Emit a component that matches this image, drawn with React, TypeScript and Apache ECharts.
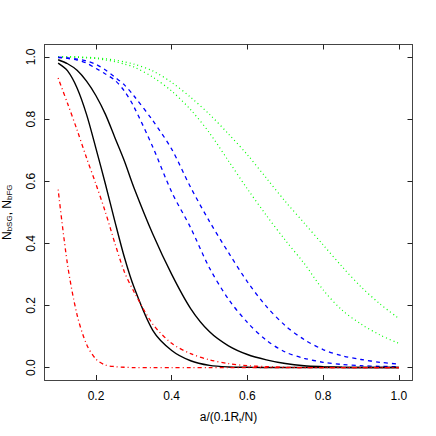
import React, { useEffect, useRef } from "react";
import * as echarts from "echarts";

const xs = [0.1, 0.125, 0.15, 0.175, 0.2, 0.225, 0.25, 0.275, 0.3, 0.35, 0.4, 0.45, 0.5, 0.55, 0.6, 0.65, 0.7, 0.75, 0.8, 0.85, 0.9, 0.95, 1.0];

const redInner = [0.573, 0.33, 0.17, 0.075, 0.027, 0.008, 0.003, 0.001, 0, 0, 0, 0, 0, 0, 0, 0, 0, 0, 0, 0, 0, 0, 0];
const redOuter = [0.932, 0.85, 0.765, 0.675, 0.59, 0.5, 0.4, 0.308, 0.245, 0.14, 0.078, 0.045, 0.025, 0.013, 0.006, 0.003, 0.001, 0, 0, 0, 0, 0, 0];
const blackInner = [0.98, 0.955, 0.9, 0.815, 0.705, 0.59, 0.47, 0.355, 0.26, 0.12, 0.055, 0.022, 0.007, 0.002, 0.001, 0, 0, 0, 0, 0, 0, 0, 0];
const blackOuter = [0.991, 0.978, 0.957, 0.922, 0.875, 0.815, 0.74, 0.665, 0.58, 0.43, 0.3, 0.19, 0.115, 0.07, 0.042, 0.025, 0.013, 0.006, 0.003, 0.001, 0, 0, 0];
const blueInner = [0.998, 0.995, 0.99, 0.98, 0.963, 0.945, 0.925, 0.89, 0.84, 0.71, 0.565, 0.45, 0.32, 0.22, 0.145, 0.088, 0.05, 0.03, 0.017, 0.01, 0.006, 0.004, 0.003];
const blueOuter = [0.999, 0.997, 0.993, 0.987, 0.976, 0.958, 0.935, 0.91, 0.875, 0.795, 0.703, 0.58, 0.47, 0.37, 0.276, 0.197, 0.135, 0.09, 0.058, 0.038, 0.026, 0.017, 0.011];
const greenOuter = [1.0, 1.0, 1.0, 0.999, 0.997, 0.994, 0.99, 0.984, 0.977, 0.955, 0.918, 0.87, 0.815, 0.752, 0.685, 0.61, 0.535, 0.465, 0.395, 0.325, 0.26, 0.205, 0.158];
const greenInner = [1.0, 1.0, 0.999, 0.997, 0.995, 0.99, 0.985, 0.977, 0.968, 0.935, 0.89, 0.83, 0.755, 0.665, 0.575, 0.49, 0.41, 0.335, 0.25, 0.185, 0.14, 0.105, 0.078];

const xTicks = [0.2, 0.4, 0.6, 0.8, 1.0];
const yTicks = [0.0, 0.2, 0.4, 0.6, 0.8, 1.0];

const FONT = "'Liberation Sans', Arial, Helvetica, sans-serif";

function pairs(ys: number[]) {
  return xs.map((x, i) => [x, ys[i]]);
}

export default function App() {
  const ref = useRef<HTMLDivElement>(null);
  useEffect(() => {
    if (!ref.current) return;
    const chart = echarts.init(ref.current, undefined, { renderer: "svg" });
    const mk = (name: string, ys: number[], color: string, type: any, width: number) => ({
      name,
      type: "line",
      data: pairs(ys),
      showSymbol: false,
      smooth: 0.3,
      lineStyle: { color, width, type },
      z: 3,
    });
    const tickCommon = {
      show: true,
      inside: true,
      length: 5,
      lineStyle: { color: "#222", width: 1 },
    };
    const frameLine = { show: true, onZero: false, lineStyle: { color: "#444", width: 1 } };
    chart.setOption({
      animation: false,
      backgroundColor: "#fff",
      grid: {
        left: 44.5,
        right: 23.5,
        top: 44.5,
        bottom: 56,
        show: false,
        containLabel: false,
        outerBoundsMode: "none",
      },
      xAxis: [
        {
          type: "value",
          min: 0.064,
          max: 1.036,
          position: "bottom",
          axisLine: frameLine,
          splitLine: { show: false },
          axisTick: { ...tickCommon, customValues: xTicks },
          axisLabel: {
            customValues: xTicks,
            formatter: (v: number) => v.toFixed(1),
            fontFamily: FONT,
            fontSize: 12,
            color: "#000",
            margin: 10,
          },
          name: "a/(0.1R{s|t}/N)",
          nameLocation: "middle",
          nameGap: 30,
          nameTextStyle: {
            fontFamily: FONT,
            fontSize: 12,
            color: "#000",
            rich: {
              s: { fontFamily: FONT, fontSize: 8, color: "#000", verticalAlign: "bottom", padding: [6, 0, 0, 0] },
            },
          },
        },
        {
          type: "value",
          min: 0.064,
          max: 1.036,
          position: "top",
          axisLine: frameLine,
          splitLine: { show: false },
          axisTick: { ...tickCommon, customValues: xTicks },
          axisLabel: { show: false, customValues: xTicks },
        },
      ],
      yAxis: [
        {
          type: "value",
          min: -0.04,
          max: 1.04,
          position: "left",
          axisLine: frameLine,
          splitLine: { show: false },
          axisTick: { ...tickCommon, customValues: yTicks },
          axisLabel: {
            customValues: yTicks,
            formatter: (v: number) => v.toFixed(1),
            rotate: 90,
            fontFamily: FONT,
            fontSize: 12,
            color: "#000",
            margin: 8,
          },
          name: "N{s|bSG}, N{s|bFG}",
          nameLocation: "middle",
          nameRotate: 90,
          nameGap: 31,
          nameTextStyle: {
            fontFamily: FONT,
            fontSize: 12,
            color: "#000",
            rich: {
              s: { fontFamily: FONT, fontSize: 8, color: "#000", verticalAlign: "bottom", padding: [6, 0, 0, 0] },
            },
          },
        },
        {
          type: "value",
          min: -0.04,
          max: 1.04,
          position: "right",
          axisLine: frameLine,
          splitLine: { show: false },
          axisTick: { ...tickCommon, customValues: yTicks },
          axisLabel: { show: false, customValues: yTicks },
        },
      ],
      series: [
        mk("greenOuter", greenOuter, "#00ff00", [1, 3], 1.2),
        mk("greenInner", greenInner, "#00ff00", [1, 3], 1.2),
        mk("blueOuter", blueOuter, "#0000ff", [4, 4], 1.3),
        mk("blueInner", blueInner, "#0000ff", [4, 4], 1.3),
        mk("blackOuter", blackOuter, "#000000", "solid", 1.4),
        mk("blackInner", blackInner, "#000000", "solid", 1.4),
        mk("redOuter", redOuter, "#ff0000", [1, 3, 4, 3], 1.3),
        mk("redInner", redInner, "#ff0000", [1, 3, 4, 3], 1.3),
      ],
    });
    return () => chart.dispose();
  }, []);
  return <div ref={ref} style={{ position: "absolute", left: 0, top: 0, width: 436, height: 436 }} />;
}
